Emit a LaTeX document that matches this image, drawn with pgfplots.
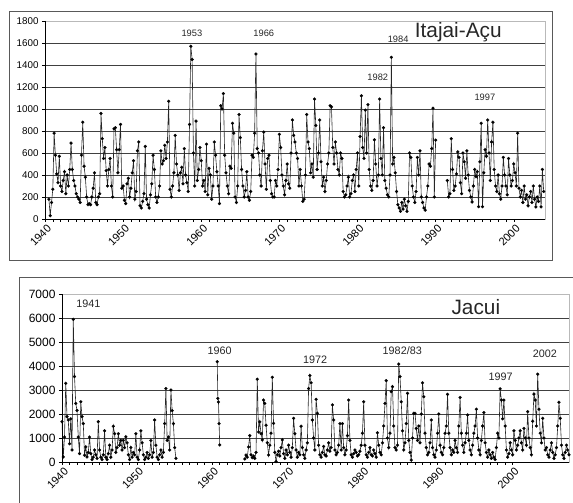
\documentclass[border=0pt]{standalone}
\usepackage{fontspec}
\setmainfont{Liberation Sans}
\usepackage{pgfplots}
\pgfplotsset{compat=1.18}
\pgfplotsset{ser/.style={black!85, line width=0.6pt, mark=*, mark size=1.5pt, mark options={fill=black, draw=black, line width=0.2pt}}}
\begin{document}
\begin{tikzpicture}[x=1pt,y=1pt]
\useasboundingbox (0,0) rectangle (573,503);
% chart area frames
\draw[black!65, line width=1pt] (9,491) rectangle (552,242);
\draw[black!65, line width=1pt] (19,225) rectangle (600,-20);
% ---------------- Itajai-Acu ----------------
\begin{axis}[name=top,
 at={(45pt,284pt)}, anchor=south west, scale only axis, width=500pt, height=198pt,
 xmin=1940, xmax=2004, ymin=0, ymax=1800,
 xtick={1940,1950,...,2000}, minor x tick num=9,
 ytick={0,200,...,1800},
 tick pos=left, tick align=outside,
 major tick length=3pt, minor tick length=3pt,
 ymajorgrids, major grid style={black!75, line width=0.6pt},
 axis line style={gray!55, line width=0.6pt},
 tick style={black, line width=0.5pt},
 /pgf/number format/assume math mode=true,
 /pgf/number format/1000 sep={},
 yticklabel style={font=\fontsize{9.8}{10}\selectfont},
 xticklabel style={font=\fontsize{11}{12}\selectfont, rotate=45, anchor=north east, xshift=3pt, yshift=1pt},
 unbounded coords=jump, clip=false]
\addplot[ser] table[header=false, row sep=\\, x expr={1940.5+\coordindex/6}, y index=0] {
180\\30\\150\\270\\780\\580\\410\\330\\570\\300\\250\\350\\
430\\230\\400\\300\\450\\690\\450\\350\\300\\230\\200\\180\\
150\\580\\880\\480\\380\\200\\130\\140\\130\\200\\280\\420\\
150\\130\\200\\230\\960\\730\\550\\650\\440\\300\\450\\550\\
300\\200\\820\\830\\630\\420\\630\\860\\280\\300\\170\\140\\
320\\370\\200\\280\\420\\530\\180\\250\\620\\700\\120\\100\\
160\\230\\660\\180\\130\\100\\220\\320\\580\\450\\200\\150\\
200\\300\\620\\500\\530\\670\\550\\700\\1070\\270\\200\\300\\
420\\760\\500\\400\\260\\420\\470\\320\\640\\400\\330\\250\\
860\\1570\\1450\\600\\300\\890\\350\\450\\650\\530\\300\\350\\
250\\680\\220\\460\\400\\180\\300\\700\\580\\430\\300\\140\\
1030\\1000\\1140\\580\\420\\300\\230\\480\\460\\870\\780\\200\\
150\\300\\950\\740\\450\\300\\200\\260\\430\\200\\170\\250\\
580\\560\\780\\1500\\640\\600\\400\\300\\620\\790\\500\\270\\
550\\580\\350\\230\\200\\200\\350\\300\\450\\770\\650\\400\\
300\\220\\350\\500\\320\\280\\600\\900\\760\\700\\600\\550\\
300\\450\\300\\160\\180\\400\\950\\700\\640\\420\\500\\380\\
1090\\850\\450\\600\\900\\520\\300\\380\\250\\350\\500\\600\\
1030\\1020\\650\\500\\700\\600\\450\\400\\600\\550\\250\\200\\
220\\300\\380\\200\\230\\350\\400\\250\\450\\600\\300\\750\\
1120\\650\\550\\990\\600\\1040\\450\\300\\260\\350\\720\\500\\
300\\400\\1090\\550\\400\\830\\350\\280\\220\\200\\400\\1470\\
500\\560\\420\\250\\130\\100\\70\\150\\90\\180\\120\\70\\
160\\600\\560\\300\\200\\150\\250\\560\\400\\620\\200\\150\\
100\\80\\200\\300\\500\\480\\640\\1007\\200\\717\\
};
\addplot[ser] table[header=false, row sep=\\, x expr={1940.5+(306+\coordindex)/6}, y index=0] {
350\\200\\230\\730\\450\\260\\300\\410\\610\\560\\330\\230\\
600\\520\\370\\620\\400\\260\\200\\155\\300\\450\\385\\430\\
112\\520\\870\\112\\420\\630\\570\\900\\600\\350\\700\\880\\
450\\300\\250\\400\\230\\180\\300\\560\\400\\300\\220\\550\\
400\\300\\350\\500\\420\\300\\780\\280\\200\\260\\150\\300\\
180\\220\\120\\200\\250\\150\\300\\180\\110\\200\\160\\300\\
110\\450\\250\\
};
\begin{scope}[font=\fontsize{9.3}{10}\selectfont, text=black!85]
\node at (axis cs:1958.8,1691) {1953};
\node at (axis cs:1968.0,1691) {1966};
\node at (axis cs:1985.2,1636) {1984};
\node at (axis cs:1982.6,1291) {1982};
\node at (axis cs:1996.3,1109) {1997};
\end{scope}
\node[font=\fontsize{20.8}{22}\selectfont, text=black!85] at (axis cs:1992.9,1700) {Itajai-Açu};
\end{axis}
\draw[black, line width=0.6pt] (top.north west) -- (top.south west) -- (top.south east);
% ---------------- Jacui ----------------
\begin{axis}[name=bot,
 at={(62pt,41pt)}, anchor=south west, scale only axis, width=507pt, height=168pt,
 xmin=1940, xmax=2007.5, ymin=0, ymax=7000,
 xtick={1940,1950,...,2000}, minor x tick num=9,
 ytick={0,1000,...,7000},
 tick pos=left, tick align=outside,
 major tick length=3pt, minor tick length=3pt,
 ymajorgrids, major grid style={black!75, line width=0.6pt},
 axis line style={gray!55, line width=0.6pt},
 tick style={black, line width=0.5pt},
 /pgf/number format/assume math mode=true,
 /pgf/number format/1000 sep={},
 yticklabel style={font=\fontsize{12}{13}\selectfont},
 xticklabel style={font=\fontsize{11}{12}\selectfont, rotate=45, anchor=north east, xshift=3pt, yshift=1pt},
 unbounded coords=jump, clip=false]
\addplot[ser] table[header=false, row sep=\\, x expr={1940+\coordindex/6}, y index=0] {
1680\\210\\1040\\3280\\1890\\1750\\760\\1800\\500\\5944\\3560\\2440\\
2150\\1040\\350\\2510\\1890\\1600\\280\\630\\210\\400\\1040\\350\\
100\\200\\500\\300\\150\\1680\\500\\200\\100\\300\\1300\\200\\
100\\350\\700\\200\\500\\1490\\1180\\400\\600\\1180\\700\\900\\
500\\900\\600\\1050\\800\\300\\100\\600\\200\\400\\300\\1180\\
200\\100\\500\\1300\\800\\300\\100\\200\\400\\150\\300\\900\\
200\\400\\1750\\700\\200\\100\\300\\500\\200\\400\\1600\\3060\\
900\\1040\\500\\3000\\2140\\1600\\600\\150\\
};
\addplot[ser] table[header=false, row sep=\\, x expr={1940+(124+0.5*\coordindex)/6}, y index=0] {
4180\\2650\\2500\\1600\\710\\
};
\addplot[ser] table[header=false, row sep=\\, x expr={1940+(146+\coordindex)/6}, y index=0] {
125\\290\\200\\625\\1100\\300\\180\\250\\150\\400\\3450\\1250\\
1670\\1180\\920\\2580\\2440\\1530\\800\\290\\700\\1200\\3530\\1610\\
400\\20\\300\\450\\250\\600\\920\\350\\150\\500\\300\\700\\
400\\200\\600\\1820\\1180\\500\\200\\400\\300\\1490\\600\\300\\
150\\500\\800\\3060\\3600\\3300\\1750\\1000\\500\\2610\\2030\\700\\
300\\200\\400\\650\\300\\250\\500\\800\\450\\600\\2380\\1750\\
500\\300\\400\\700\\1600\\500\\1600\\600\\300\\500\\1100\\2580\\
900\\300\\200\\350\\500\\400\\250\\300\\450\\700\\1200\\2510\\
700\\300\\200\\400\\600\\300\\250\\500\\350\\200\\1220\\700\\
400\\300\\800\\1500\\2440\\3390\\1000\\600\\1200\\2930\\3140\\1500\\
600\\500\\700\\4080\\3560\\2510\\1300\\500\\800\\1600\\2860\\900\\
400\\80\\1000\\2030\\2030\\1400\\900\\1500\\800\\2000\\3300\\2720\\
1200\\600\\300\\400\\800\\1750\\600\\300\\200\\500\\1200\\2000\\
700\\400\\300\\600\\1200\\1500\\2820\\1200\\600\\300\\500\\400\\
900\\600\\400\\1500\\2690\\1200\\700\\400\\800\\1200\\1960\\900\\
500\\300\\700\\1200\\1500\\2200\\1000\\500\\300\\900\\1500\\2060\\
800\\400\\200\\500\\300\\150\\400\\200\\100\\600\\1200\\1000\\
3050\\2580\\1800\\2580\\1500\\500\\200\\350\\800\\500\\300\\1300\\
900\\500\\700\\1000\\1300\\800\\500\\1400\\1000\\700\\2100\\1000\\
600\\300\\1700\\2830\\2580\\1500\\3660\\2200\\1200\\800\\1820\\1000\\
500\\600\\300\\200\\500\\800\\400\\150\\300\\600\\1500\\2490\\
1820\\700\\300\\150\\400\\700\\500\\300\\
};
\begin{scope}[font=\fontsize{10.8}{12}\selectfont, text=black!85]
\node at (axis cs:1943.5,6583) {1941};
\node at (axis cs:1961.0,4625) {1960};
\node at (axis cs:1973.7,4250) {1972};
\node at (axis cs:1985.3,4625) {1982/83};
\node at (axis cs:1998.4,3542) {1997};
\node at (axis cs:2004.3,4500) {2002};
\end{scope}
\node[font=\fontsize{20.8}{22}\selectfont, text=black!85] at (axis cs:1995.1,6458) {Jacui};
\end{axis}
\draw[black, line width=0.6pt] (bot.north west) -- (bot.south west) -- (bot.south east);
\end{tikzpicture}
\end{document}
